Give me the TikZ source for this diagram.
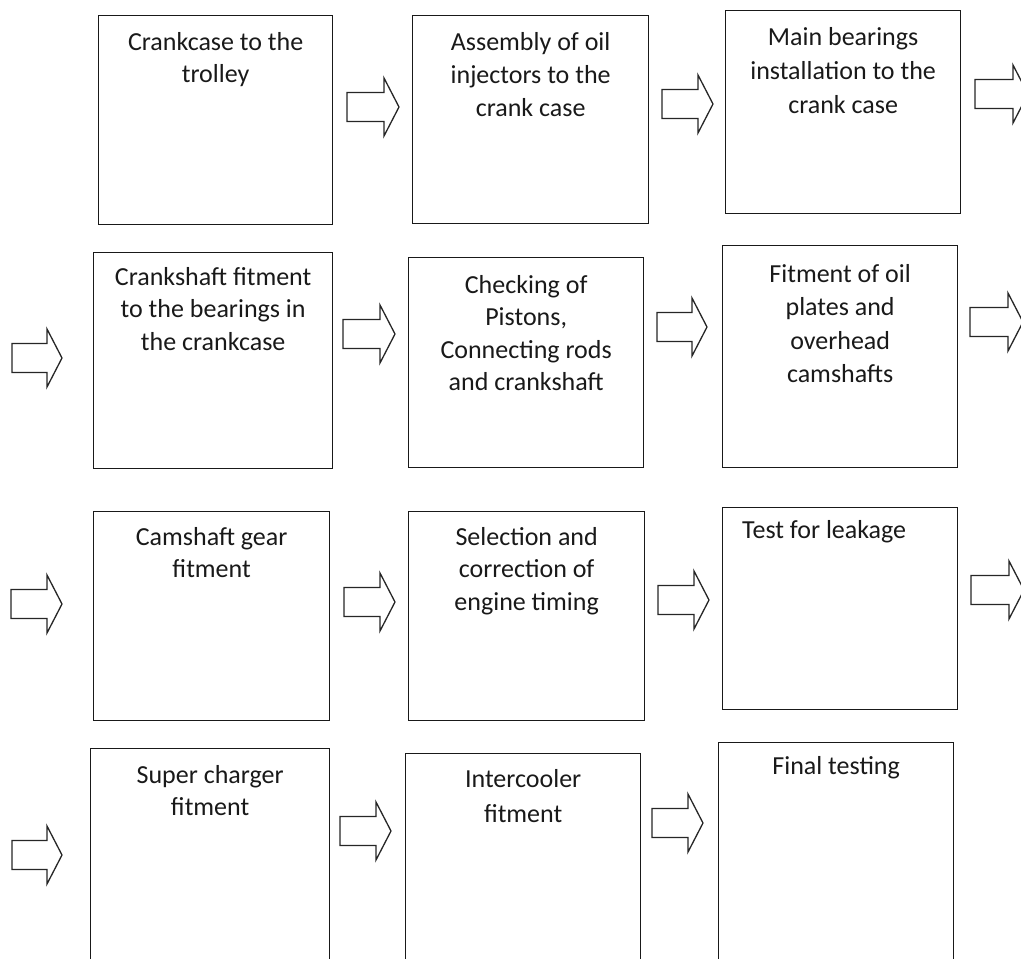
\documentclass[tikz,border=0pt]{standalone}
\usepackage{fontspec}
\setmainfont{Carlito}
\newcommand{\blkarrow}[3]{%
  \draw[blockarrow] (#1,{#3-14.5}) -- ({#2-15},{#3-14.5}) -- ({#2-15},{#3-29}) -- (#2,#3)
    -- ({#2-15},{#3+29}) -- ({#2-15},{#3+14.5}) -- (#1,{#3+14.5}) -- cycle;}
\newcommand{\steptxt}[2]{\parbox[t]{232pt}{\centering\fontsize{26}{#1}\selectfont #2}}
\begin{document}
\begin{tikzpicture}[x=1pt,y=-1pt,
  stepbox/.style={draw=black!90, line width=1.3pt, rectangle, inner sep=0pt, anchor=north west},
  steptext/.style={anchor=base, inner sep=0pt, text=black!90},
  blockarrow/.style={draw=black!85, line width=1.3pt, line join=miter, fill=white}]
\useasboundingbox (0,0) rectangle (1021,959);
\clip (0,0) rectangle (1021,959);

% Row 1
\node[stepbox, minimum width=234pt, minimum height=209pt] (b1) at (98,15) {};
\node[stepbox, minimum width=236pt, minimum height=208pt] (b2) at (412,15) {};
\node[stepbox, minimum width=235pt, minimum height=203pt] (b3) at (725,10) {};
% Row 2
\node[stepbox, minimum width=239pt, minimum height=216pt] (b4) at (93,252) {};
\node[stepbox, minimum width=235pt, minimum height=210pt] (b5) at (408,257) {};
\node[stepbox, minimum width=235pt, minimum height=222pt] (b6) at (722,245) {};
% Row 3
\node[stepbox, minimum width=236pt, minimum height=209pt] (b7) at (93,511) {};
\node[stepbox, minimum width=236pt, minimum height=209pt] (b8) at (408,511) {};
\node[stepbox, minimum width=235pt, minimum height=202pt] (b9) at (722,507) {};
% Row 4
\node[stepbox, minimum width=239pt, minimum height=240pt] (b10) at (90,748) {};
\node[stepbox, minimum width=235pt, minimum height=240pt] (b11) at (405,753) {};
\node[stepbox, minimum width=235pt, minimum height=240pt] (b12) at (718,742) {};

% Texts
\node[steptext] (t1) at ([yshift=-35pt]b1.north) {\steptxt{32}{Crankcase to the\\trolley}};
\node[steptext] (t2) at ([yshift=-35pt]b2.north) {\steptxt{33}{Assembly of oil\\injectors to the\\crank case}};
\node[steptext] (t3) at ([yshift=-35pt]b3.north) {\steptxt{34}{Main bearings\\installation to the\\crank case}};
\node[steptext] (t4) at ([yshift=-33pt]b4.north) {\steptxt{32.5}{Crankshaft fitment\\to the bearings in\\the crankcase}};
\node[steptext] (t5) at ([yshift=-36pt]b5.north) {\steptxt{32.5}{Checking of\\Pistons,\\Connecting rods\\and crankshaft}};
\node[steptext] (t6) at ([yshift=-37pt]b6.north) {\steptxt{33.5}{Fitment of oil\\plates and\\overhead\\camshafts}};
\node[steptext] (t7) at ([yshift=-34pt]b7.north) {\steptxt{32}{Camshaft gear\\fitment}};
\node[steptext] (t8) at ([yshift=-34pt]b8.north) {\steptxt{32.5}{Selection and\\correction of\\engine timing}};
\node[anchor=base west, inner sep=0pt, text=black!90, font=\fontsize{26}{33}\selectfont] (t9) at ([xshift=20pt,yshift=-31pt]b9.north west) {Test for leakage};
\node[steptext] (t10) at ([yshift=-35pt]b10.north) {\steptxt{32}{Super charger\\fitment}};
\node[steptext] (t11) at ([yshift=-34pt]b11.north) {\steptxt{35}{Intercooler\\fitment}};
\node[steptext] (t12) at ([yshift=-32pt]b12.north) {\steptxt{33}{Final testing}};

% Block arrows
\blkarrow{347}{399}{107}
\blkarrow{662}{713}{104}
\blkarrow{975}{1028}{94}
\blkarrow{12}{62}{358}
\blkarrow{343}{395}{334}
\blkarrow{657}{707}{327}
\blkarrow{970}{1023}{322}
\blkarrow{11}{62}{604}
\blkarrow{344}{395}{602}
\blkarrow{658}{709}{600}
\blkarrow{971}{1024}{590}
\blkarrow{12}{62}{855}
\blkarrow{340}{391}{831}
\blkarrow{652}{703}{823}
\end{tikzpicture}
\end{document}
